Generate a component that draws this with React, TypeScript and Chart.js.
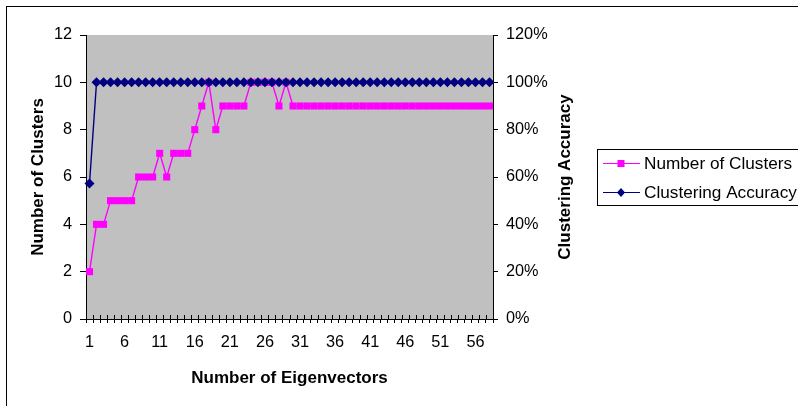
import React, { useEffect, useRef } from "react";
import { Chart, registerables } from "chart.js";

Chart.register(...registerables);

const categories = [
  1, 2, 3, 4, 5, 6, 7, 8, 9, 10, 11, 12, 13, 14, 15, 16, 17, 18, 19, 20,
  21, 22, 23, 24, 25, 26, 27, 28, 29, 30, 31, 32, 33, 34, 35, 36, 37, 38, 39, 40,
  41, 42, 43, 44, 45, 46, 47, 48, 49, 50, 51, 52, 53, 54, 55, 56, 57, 58,
];

const numberOfClusters = [
  2, 4, 4, 5, 5, 5, 5, 6, 6, 6, 7, 6, 7, 7, 7, 8, 9, 10, 8, 9,
  9, 9, 9, 10, 10, 10, 10, 9, 10, 9, 9, 9, 9, 9, 9, 9, 9, 9, 9, 9,
  9, 9, 9, 9, 9, 9, 9, 9, 9, 9, 9, 9, 9, 9, 9, 9, 9, 9,
];

const clusteringAccuracy = [
  0.573, 1, 1, 1, 1, 1, 1, 1, 1, 1, 1, 1, 1, 1, 1, 1, 1, 1, 1, 1,
  1, 1, 1, 1, 1, 1, 1, 1, 1, 1, 1, 1, 1, 1, 1, 1, 1, 1, 1, 1,
  1, 1, 1, 1, 1, 1, 1, 1, 1, 1, 1, 1, 1, 1, 1, 1, 1, 1,
];

const seriesNames = ["Number of Clusters", "Clustering Accuracy"];
const xTitle = "Number of Eigenvectors";
const yLeftTitle = "Number of Clusters";
const yRightTitle = "Clustering Accuracy";

const PINK = "#FF00FF";
const NAVY = "#000080";
const FONT = "'Liberation Sans', Arial, sans-serif";

const decorPlugin = {
  id: "decor",
  beforeDraw(chart: any) {
    const { ctx, chartArea } = chart;
    ctx.save();
    ctx.fillStyle = "#ffffff";
    ctx.fillRect(0, 0, chart.width, chart.height);
    ctx.fillStyle = "#C0C0C0";
    ctx.fillRect(
      chartArea.left,
      chartArea.top,
      chartArea.right - chartArea.left,
      chartArea.bottom - chartArea.top
    );
    ctx.restore();
  },
  afterDraw(chart: any) {
    const { ctx, chartArea } = chart;
    const x = chart.scales.x;
    ctx.save();
    // inner part of crossing x tick marks
    ctx.strokeStyle = "#000";
    ctx.lineWidth = 1;
    const n = categories.length;
    const step = (chartArea.right - chartArea.left) / n;
    ctx.beginPath();
    for (let i = 0; i <= n; i++) {
      const px = Math.round(x.left + i * step) + 0.5;
      ctx.moveTo(px, chartArea.bottom - 4);
      ctx.lineTo(px, chartArea.bottom);
    }
    ctx.stroke();

    // outer chart border
    ctx.strokeStyle = "#000";
    ctx.lineWidth = 1;
    ctx.strokeRect(6.5, 6.5, 900, 900);

    // titles
    ctx.fillStyle = "#000";
    ctx.font = `bold 17px ${FONT}`;
    ctx.textAlign = "center";
    ctx.textBaseline = "alphabetic";
    const cx = (chartArea.left + chartArea.right) / 2;
    const cy = (chartArea.top + chartArea.bottom) / 2;
    ctx.fillText(xTitle, cx, 383);

    ctx.save();
    ctx.translate(43, cy);
    ctx.rotate(-Math.PI / 2);
    ctx.fillText(yLeftTitle, 0, 0);
    ctx.restore();

    ctx.save();
    ctx.translate(570, cy);
    ctx.rotate(-Math.PI / 2);
    ctx.fillText(yRightTitle, 0, 0);
    ctx.restore();

    // legend
    ctx.strokeStyle = "#000";
    ctx.lineWidth = 1;
    ctx.strokeRect(597.5, 149.5, 300, 56);
    const rows = [
      { name: seriesNames[0], color: PINK, y: 163, shape: "square" },
      { name: seriesNames[1], color: NAVY, y: 192, shape: "diamond" },
    ];
    ctx.font = `17.2px ${FONT}`;
    ctx.textAlign = "left";
    ctx.textBaseline = "middle";
    for (const r of rows) {
      ctx.strokeStyle = r.color;
      ctx.lineWidth = 1;
      ctx.beginPath();
      ctx.moveTo(603, r.y + 0.5);
      ctx.lineTo(640, r.y + 0.5);
      ctx.stroke();
      ctx.fillStyle = r.color;
      if (r.shape === "square") {
        ctx.fillRect(617.5, r.y - 3, 7, 7);
      } else {
        ctx.beginPath();
        ctx.moveTo(621, r.y - 4);
        ctx.lineTo(625, r.y + 0.5);
        ctx.lineTo(621, r.y + 5);
        ctx.lineTo(617, r.y + 0.5);
        ctx.closePath();
        ctx.fill();
      }
      ctx.fillStyle = "#000";
      ctx.fillText(r.name, 644, r.y + 1);
    }
    ctx.restore();
  },
};

export default function App() {
  const canvasRef = useRef<HTMLCanvasElement | null>(null);

  useEffect(() => {
    if (!canvasRef.current) return;
    const chart = new Chart(canvasRef.current, {
      type: "line",
      data: {
        labels: categories,
        datasets: [
          {
            label: seriesNames[0],
            data: numberOfClusters,
            yAxisID: "y",
            borderColor: PINK,
            backgroundColor: PINK,
            borderWidth: 1.4,
            pointStyle: "rect",
            pointRadius: 5,
            pointBorderWidth: 0,
            pointBackgroundColor: PINK,
            tension: 0,
            order: 2,
          },
          {
            label: seriesNames[1],
            data: clusteringAccuracy,
            yAxisID: "y1",
            borderColor: NAVY,
            backgroundColor: NAVY,
            borderWidth: 1.4,
            pointStyle: "rectRot",
            pointRadius: 5,
            pointBorderWidth: 0,
            pointBackgroundColor: NAVY,
            tension: 0,
            order: 1,
          },
        ],
      },
      options: {
        responsive: false,
        animation: false,
        devicePixelRatio: 1,
        layout: { padding: { top: 35, left: 0, right: 0, bottom: 0 } },
        plugins: {
          legend: { display: false },
          tooltip: { enabled: false },
        },
        scales: {
          x: {
            type: "category",
            offset: true,
            grid: {
              offset: true,
              drawOnChartArea: false,
              drawTicks: true,
              tickLength: 4,
              color: "#000",
            },
            border: { color: "#000", width: 1 },
            ticks: {
              autoSkip: false,
              maxRotation: 0,
              padding: 10,
              color: "#000",
              font: { family: FONT, size: 16.3 },
              callback: (_v: any, i: number) =>
                i % 5 === 0 ? String(categories[i]) : "",
            },
            afterFit: (s: any) => {
              s.height = 87;
            },
          },
          y: {
            position: "left",
            min: 0,
            max: 12,
            grid: {
              drawOnChartArea: false,
              tickLength: 6,
              color: "#000",
            },
            border: { color: "#000", width: 1 },
            ticks: {
              stepSize: 2,
              padding: 8,
              color: "#000",
              font: { family: FONT, size: 16.3 },
            },
            afterFit: (s: any) => {
              s.width = 86;
            },
          },
          y1: {
            position: "right",
            min: 0,
            max: 1.2,
            grid: {
              drawOnChartArea: false,
              tickLength: 5,
              color: "#000",
            },
            border: { color: "#000", width: 1 },
            ticks: {
              stepSize: 0.2,
              padding: 8,
              color: "#000",
              font: { family: FONT, size: 16.3 },
              callback: (v: any) => Math.round(Number(v) * 100) + "%",
            },
            afterFit: (s: any) => {
              s.width = 305;
            },
          },
        },
      },
      plugins: [decorPlugin],
    });
    return () => chart.destroy();
  }, []);

  return (
    <div style={{ position: "fixed", left: 0, top: 0, width: 798, height: 406 }}>
      <canvas
        ref={canvasRef}
        width={798}
        height={406}
        style={{ width: 798, height: 406, display: "block" }}
      />
    </div>
  );
}
